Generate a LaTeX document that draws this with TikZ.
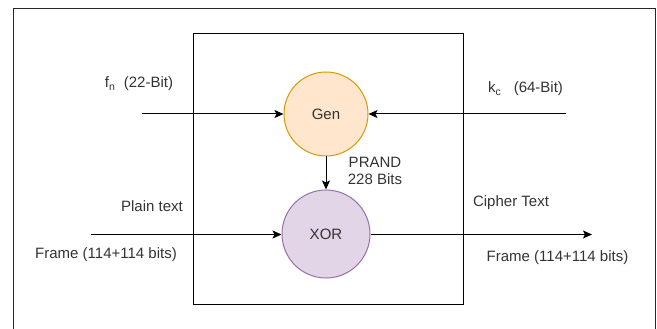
\documentclass[tikz,border=0pt]{standalone}
\usepackage{fontspec}
\setmainfont{Liberation Sans}
\usetikzlibrary{arrows.meta}
\definecolor{txt}{HTML}{333333}
\definecolor{genfill}{HTML}{FFE6CC}
\definecolor{genline}{HTML}{D79B00}
\definecolor{xorfill}{HTML}{E1D5E7}
\definecolor{xorline}{HTML}{9673A6}
\tikzset{
  lbl/.style={text=txt, font=\fontsize{15}{17}\selectfont, inner sep=0pt, align=center},
  circ/.style={circle, minimum size=#1, inner sep=0pt, line width=1pt, text=txt, font=\fontsize{15}{17}\selectfont},
  conn/.style={line width=1pt, -{Stealth[length=9pt,width=8pt,inset=2pt]}},
  frame/.style={line width=1pt, draw=black}
}
\begin{document}
\begin{tikzpicture}[x=1pt,y=-1pt]
\useasboundingbox (0,0) rectangle (657,329);
% outer frame (bottom edge outside the picture)
\draw[frame, draw=black!85] (13.5,329) -- (13.5,8.5) -- (655.5,8.5) -- (655.5,329);
% inner box
\node[frame, draw, rectangle, minimum width=270pt, minimum height=270pt, inner sep=0pt] (box) at (328.5,169) {};
% circles
\node[circ=84pt, draw=genline, fill=genfill] (gen) at (326,114) {Gen};
\node[circ=88pt, draw=xorline, fill=xorfill] (xor) at (326,234) {XOR};
% free ends
\coordinate (fnin) at (142,114);
\coordinate (kcin) at (566,114);
\coordinate (ptin) at (91,234.5);
\coordinate (ctout) at (592,234.5);
% connectors
\draw[conn] (fnin) -- (gen.west);
\draw[conn] (kcin) -- (gen.east);
\draw[conn] (gen.south) -- (xor.north);
\draw[conn] (ptin) -- (ptin -| xor.west);
\draw[conn] (ctout -| xor.east) -- (ctout);
% labels
\node[lbl] (fn) at (139,84) {f\textsubscript{n}\ \ (22-Bit)};
\node[lbl] (kc) at (525.5,89) {k\textsubscript{c}\ \ \ (64-Bit)};
\node[lbl] (prand) at (375,171) {PRAND\\228 Bits};
\node[lbl] (plain) at (152,206) {Plain text};
\node[lbl] (framein) at (106,255) {Frame (114+114 bits)};
\node[lbl] (cipher) at (511,203) {Cipher Text};
\node[lbl] (frameout) at (557.5,257.5) {Frame (114+114 bits)};
\end{tikzpicture}
\end{document}
